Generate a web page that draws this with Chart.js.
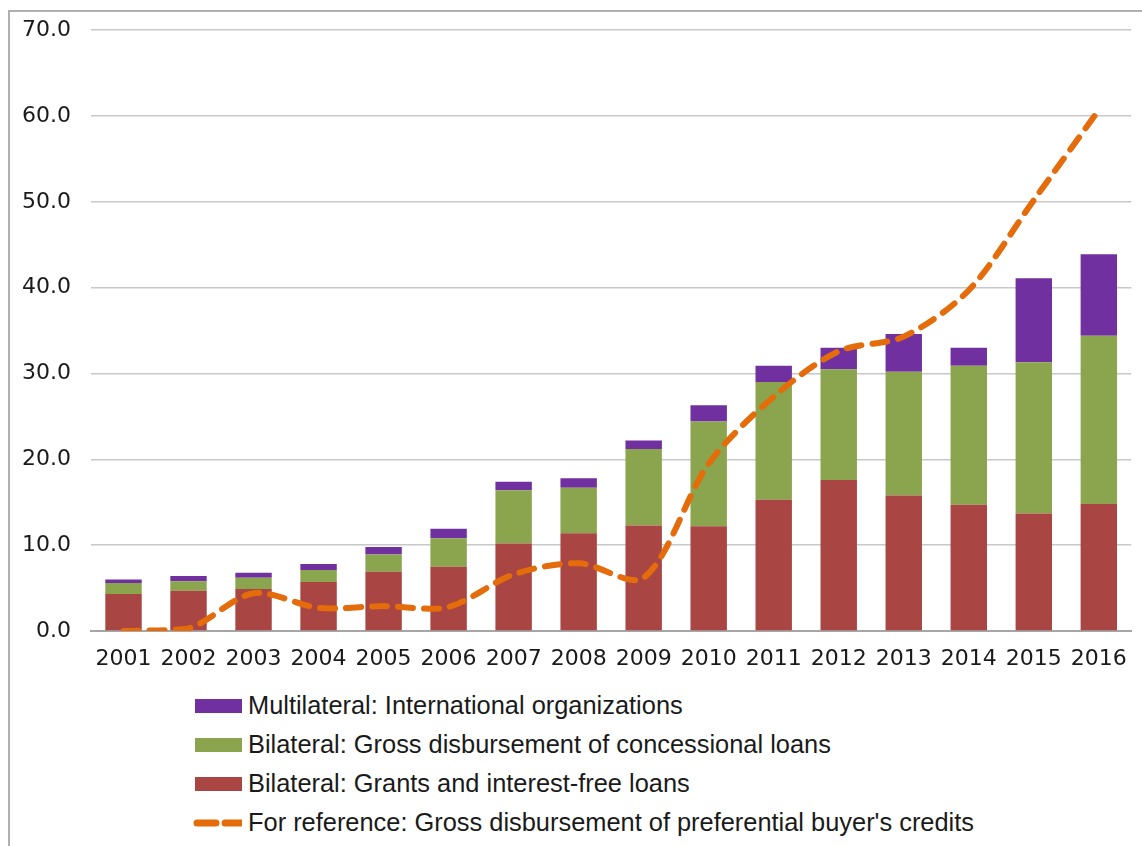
<!DOCTYPE html>
<html>
<head>
<meta charset="utf-8">
<script src="https://cdn.jsdelivr.net/npm/chart.js@4.4.1/dist/chart.umd.min.js"></script>
<style>
  html, body { margin: 0; padding: 0; background: #fff; }
  body { width: 1142px; height: 846px; position: relative; overflow: hidden; }
  #frame {
    position: absolute; left: 8px; top: 10px; width: 1140px; height: 840px;
    border-left: 2px solid #b0b0b0; border-top: 2px solid #b0b0b0;
  }
  #grafico { position: absolute; left: 9px; top: -3px; }
  #legenda {
    position: absolute; left: 193px; top: 686px;
    font-family: "Liberation Sans", Arial, sans-serif; font-size: 25.4px; color: #1a1a1a;
  }
  .item { height: 39px; display: flex; align-items: center; }
  .caixa { width: 47px; height: 14px; margin-left: 2px; margin-right: 6px; }
  .linha { width: 49px; height: 14px; margin-right: 6px; }
</style>
</head>
<body>
<div id="frame"></div>
<canvas id="grafico" width="1133" height="674"></canvas>
<div id="legenda"></div>

<script>
// Anos (eixo x)
const anos = ["2001", "2002", "2003", "2004", "2005", "2006", "2007", "2008",
              "2009", "2010", "2011", "2012", "2013", "2014", "2015", "2016"];

// Séries empilhadas (valores por camada, não acumulados)
const doacoes = [4.3, 4.7, 4.9, 5.7, 6.9, 7.5, 10.2, 11.4, 12.3, 12.2, 15.3, 17.6, 15.8, 14.7, 13.7, 14.8];
const emprestimos = [1.3, 1.1, 1.3, 1.4, 2.0, 3.3, 6.2, 5.3, 8.9, 12.2, 13.7, 12.9, 14.4, 16.2, 17.6, 19.6];
const multilateral = [0.4, 0.6, 0.6, 0.7, 0.9, 1.1, 1.0, 1.1, 1.0, 1.9, 1.9, 2.5, 4.4, 2.1, 9.8, 9.5];

// Linha de referência
const creditos = [0.0, 0.3, 4.4, 2.7, 2.9, 2.8, 6.6, 7.9, 6.2, 19.5, 27.3, 32.6, 34.3, 39.7, 50.2, 60.7];

const rotulos = [
  "Multilateral: International organizations",
  "Bilateral: Gross disbursement of concessional loans",
  "Bilateral: Grants and interest-free loans",
  "For reference: Gross disbursement of preferential buyer's credits"
];

const cores = ["#7030a0", "#8aa54d", "#a94543", "#e46c0a"];

const ctx = document.getElementById("grafico").getContext("2d");
const grafico = new Chart(ctx, {
  type: "bar",
  data: {
    labels: anos,
    datasets: [
      { label: rotulos[2], data: doacoes, backgroundColor: cores[2], order: 1 },
      { label: rotulos[1], data: emprestimos, backgroundColor: cores[1], order: 1 },
      { label: rotulos[0], data: multilateral, backgroundColor: cores[0], order: 1 },
      {
        type: "line", label: rotulos[3], data: creditos, stack: "ref", order: 0,
        borderColor: cores[3], borderWidth: 6, borderDash: [15, 11],
        borderCapStyle: "round", pointRadius: 0, tension: 0.3, fill: false
      }
    ]
  },
  options: {
    responsive: false,
    animation: false,
    barPercentage: 0.56,
    categoryPercentage: 1.0,
    layout: { padding: { top: 6, right: 6, left: 0, bottom: 0 } },
    plugins: { legend: { display: false }, tooltip: { enabled: false } },
    scales: {
      x: {
        stacked: true,
        grid: { display: false, drawTicks: false },
        border: { display: true, color: "#a6a6a6", width: 2 },
        ticks: { color: "#1a1a1a", padding: 15, font: { family: "DejaVu Sans", size: 22 } },
        afterFit: (s) => { s.height = 40; }
      },
      y: {
        stacked: true,
        min: 0, max: 70,
        grid: { color: "#c8c8c8", lineWidth: 1.5, drawTicks: false },
        border: { display: false },
        ticks: {
          stepSize: 10, color: "#1a1a1a", padding: 20,
          font: { family: "DejaVu Sans", size: 22 },
          callback: (v) => v.toFixed(1)
        },
        afterFit: (s) => { s.width = 82; }
      }
    }
  }
});

// Legenda em HTML (ordem do original)
const legenda = document.getElementById("legenda");
[2, 1, 0, 3].forEach((i) => {
  const ds = grafico.data.datasets[i];
  const item = document.createElement("div");
  item.className = "item";
  if (ds.type === "line") {
    item.innerHTML = `<svg class="linha" viewBox="0 0 49 14"><line x1="4" y1="7" x2="48" y2="7"
      stroke="${ds.borderColor}" stroke-width="7" stroke-linecap="round" stroke-dasharray="19 9"/></svg>`;
  } else {
    item.innerHTML = `<span class="caixa" style="background:${ds.backgroundColor}"></span>`;
  }
  const txt = document.createElement("span");
  txt.textContent = ds.label;
  item.appendChild(txt);
  legenda.appendChild(item);
});
</script>
</body>
</html>
